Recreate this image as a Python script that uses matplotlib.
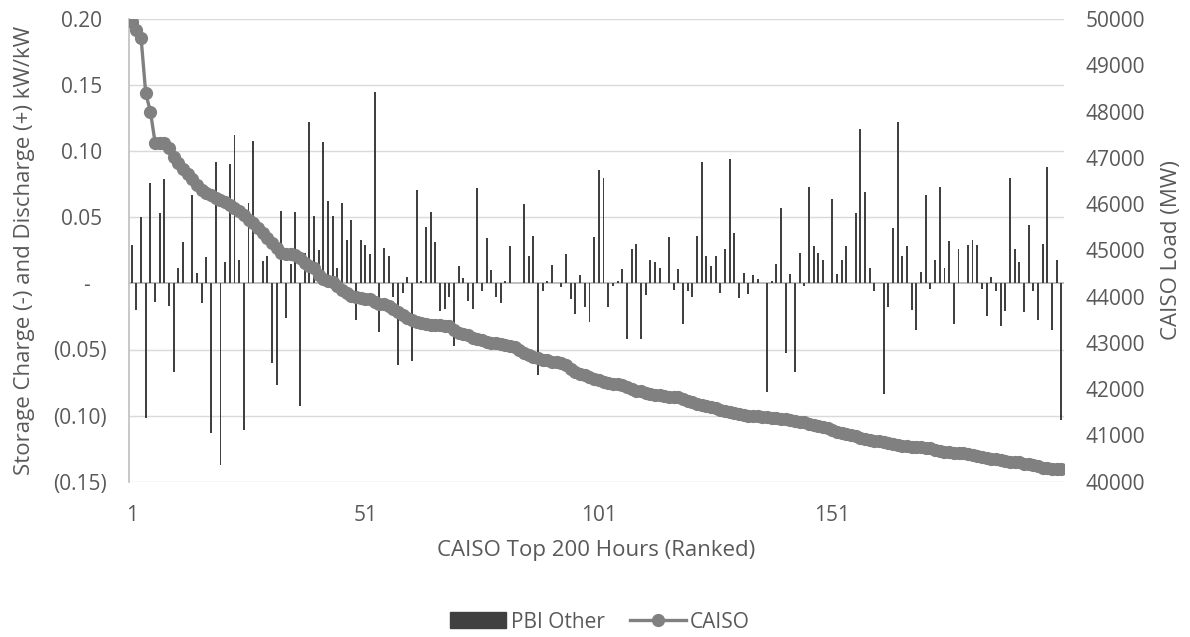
import numpy as np
import matplotlib
matplotlib.use("Agg")
import matplotlib.pyplot as plt
from matplotlib.patches import Patch
from matplotlib.lines import Line2D

plt.rcParams['font.family'] = ['Open Sans', 'DejaVu Sans']

# Storage dispatch (kW/kW) for each of the top 200 CAISO load hours
pbi_other = [
    0.029, -0.020, 0.050, -0.102, 0.076, -0.014, 0.053, 0.079, -0.017, -0.067,
    0.012, 0.031, 0.000, 0.067, 0.008, -0.015, 0.020, -0.113, 0.092, -0.137,
    0.016, 0.090, 0.112, 0.018, -0.111, 0.061, 0.108, 0.000, 0.017, 0.021,
    -0.060, -0.077, 0.055, -0.026, 0.015, 0.054, -0.093, 0.023, 0.122, 0.051,
    0.025, 0.107, 0.062, 0.051, 0.012, 0.061, 0.033, 0.048, -0.028, 0.033,
    0.029, 0.022, 0.145, -0.037, 0.027, 0.021, -0.010, -0.062, -0.007, 0.005,
    -0.059, 0.071, 0.002, 0.043, 0.054, 0.031, -0.021, -0.019, -0.010, -0.047,
    0.013, 0.004, -0.013, -0.019, 0.072, -0.006, 0.034, 0.010, -0.010, -0.015,
    0.002, 0.028, 0.000, 0.000, 0.060, 0.021, 0.036, -0.069, -0.006, 0.002,
    0.014, 0.000, -0.003, 0.022, -0.012, -0.023, 0.006, -0.018, -0.029, 0.035,
    0.086, 0.080, -0.018, -0.002, 0.002, 0.011, -0.042, 0.026, 0.030, -0.042,
    -0.009, 0.018, 0.016, 0.012, 0.000, 0.035, -0.005, 0.011, -0.031, -0.006,
    -0.010, 0.036, 0.092, 0.021, 0.013, 0.021, -0.007, 0.026, 0.094, 0.038,
    -0.011, 0.008, -0.008, 0.006, 0.003, 0.000, -0.082, 0.002, 0.015, 0.057,
    -0.053, 0.007, -0.067, 0.023, -0.002, 0.073, 0.028, 0.023, 0.018, 0.000,
    0.064, 0.007, 0.018, 0.028, 0.000, 0.053, 0.117, 0.069, 0.012, -0.006,
    0.000, -0.084, -0.018, 0.042, 0.122, 0.021, 0.028, -0.020, -0.035, 0.009,
    0.067, -0.004, 0.018, 0.073, 0.012, 0.032, -0.031, 0.026, 0.000, 0.029,
    0.033, 0.029, -0.004, -0.025, 0.005, -0.006, -0.032, -0.021, 0.080, 0.026,
    0.016, -0.022, 0.044, -0.006, -0.028, 0.030, 0.088, -0.035, 0.018, -0.103,
]

# CAISO system load (MW), ranked from highest hour down
caiso_load = [
    49930, 49760, 49590, 48390, 48000, 47330, 47320, 47310, 47210, 47020,
    46880, 46760, 46640, 46540, 46410, 46300, 46230, 46200, 46140, 46090,
    46040, 45980, 45910, 45840, 45760, 45660, 45590, 45480, 45370, 45270,
    45150, 45050, 44940, 44930, 44920, 44910, 44830, 44720, 44670, 44610,
    44470, 44380, 44340, 44310, 44240, 44140, 44070, 44010, 43990, 43960,
    43950, 43940, 43890, 43850, 43830, 43790, 43730, 43670, 43600, 43540,
    43490, 43460, 43420, 43400, 43390, 43385, 43380, 43375, 43370, 43280,
    43210, 43190, 43160, 43110, 43090, 43060, 43030, 43000, 42990, 42970,
    42960, 42940, 42920, 42850, 42780, 42740, 42700, 42670, 42640, 42620,
    42590, 42580, 42560, 42520, 42440, 42370, 42330, 42310, 42270, 42220,
    42200, 42160, 42130, 42120, 42110, 42080, 42050, 42000, 41970, 41950,
    41920, 41900, 41870, 41865, 41850, 41840, 41830, 41820, 41790, 41750,
    41720, 41690, 41660, 41640, 41620, 41590, 41560, 41530, 41500, 41480,
    41460, 41445, 41430, 41420, 41410, 41400, 41390, 41385, 41380, 41360,
    41350, 41330, 41310, 41300, 41280, 41250, 41230, 41210, 41180, 41160,
    41120, 41080, 41060, 41040, 41020, 40980, 40950, 40920, 40900, 40890,
    40870, 40850, 40840, 40820, 40790, 40780, 40770, 40760, 40750, 40740,
    40730, 40720, 40690, 40660, 40650, 40640, 40630, 40620, 40615, 40605,
    40580, 40560, 40540, 40520, 40500, 40490, 40470, 40450, 40435, 40430,
    40415, 40390, 40375, 40360, 40330, 40300, 40290, 40280, 40275, 40270,
]

hour_rank = np.arange(1, len(caiso_load) + 1)
x_tick_ranks = [1, 51, 101, 151]
left_ticks = [0.20, 0.15, 0.10, 0.05, 0.0, -0.05, -0.10, -0.15]
left_tick_labels = ["0.20 ", "0.15 ", "0.10 ", "0.05 ", "-   ", "(0.05)", "(0.10)", "(0.15)"]
right_ticks = list(range(40000, 50001, 1000))

text_color = "#595959"
bar_color = "#404040"
line_color = "#808080"
grid_color = "#d9d9d9"
tick_fs = 15
label_fs = 16

W, H = 1190, 637
fig = plt.figure(figsize=(W / 100, H / 100), dpi=100)
left, right, top, bottom = 129.4, 1063.6, 19, 481.7
ax = fig.add_axes([left / W, 1 - bottom / H, (right - left) / W, (bottom - top) / H])

ax.bar(hour_rank, pbi_other, width=0.42, color=bar_color, linewidth=0, zorder=2)
ax.set_xlim(0.5, len(hour_rank) + 0.5)
ax.set_ylim(-0.15, 0.20)
ax.set_yticks(left_ticks)
ax.set_yticklabels(left_tick_labels)
for y in left_ticks:
    if y != 0:
        ax.axhline(y, color=grid_color, lw=1.0, zorder=0)
ax.axhline(0, color="#bfbfbf", lw=1.4, zorder=1)

ax.set_xticks(x_tick_ranks)
ax.set_xticklabels([str(r) for r in x_tick_ranks])
ax.tick_params(axis='x', length=0, pad=17, labelsize=tick_fs, labelcolor=text_color)
ax.tick_params(axis='y', length=0, pad=16, labelsize=tick_fs, labelcolor=text_color)
for s in ["top", "right", "bottom"]:
    ax.spines[s].set_visible(False)
ax.spines["left"].set_color("#bfbfbf")
ax.spines["left"].set_linewidth(1.2)

ax.set_xlabel("CAISO Top 200 Hours (Ranked)", fontsize=label_fs, color=text_color, labelpad=10)
ax.set_ylabel("Storage Charge (-) and Discharge (+) kW/kW", fontsize=label_fs,
              color=text_color, labelpad=13)

ax2 = ax.twinx()
ax2.plot(hour_rank, caiso_load, color=line_color, lw=2.4, marker="o",
         markersize=8.5, markerfacecolor=line_color, markeredgecolor=line_color, zorder=3)
ax2.set_ylim(40000, 50000)
ax2.set_yticks(right_ticks)
ax2.tick_params(axis='y', length=0, pad=16, labelsize=tick_fs, labelcolor=text_color)
for s in ["top", "right", "bottom", "left"]:
    ax2.spines[s].set_visible(False)
ax2.set_ylabel("CAISO Load (MW)", fontsize=label_fs, color=text_color, labelpad=11)

handles = [
    Patch(facecolor=bar_color, edgecolor=bar_color),
    Line2D([0], [0], color=line_color, lw=2.4, marker="o", markersize=8.5,
           markerfacecolor=line_color, markeredgecolor=line_color),
]
fig.legend(handles, ["PBI Other", "CAISO"], loc="center",
           bbox_to_anchor=(600 / W, 1 - 622 / H), ncol=2, frameon=False,
           fontsize=tick_fs, labelcolor=text_color, handlelength=2.7, handleheight=0.8,
           columnspacing=1.2, handletextpad=0.2)

fig.savefig("out.png", dpi=100)
